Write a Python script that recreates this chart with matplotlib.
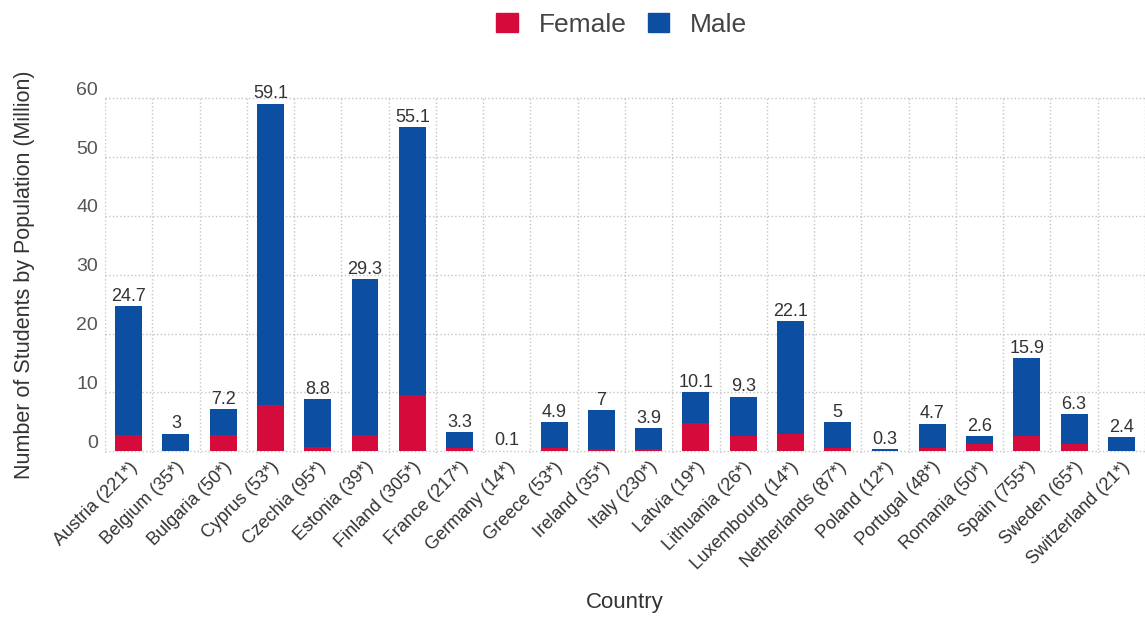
import matplotlib
matplotlib.use("Agg")
import matplotlib.pyplot as plt
import matplotlib.transforms as mtransforms
from matplotlib.patches import Patch
import numpy as np

plt.rcParams["font.family"] = ["Liberation Sans", "DejaVu Sans"]

countries = ["Austria (221*)", "Belgium (35*)", "Bulgaria (50*)", "Cyprus (53*)",
             "Czechia (95*)", "Estonia (39*)", "Finland (305*)", "France (217*)",
             "Germany (14*)", "Greece (53*)", "Ireland (35*)", "Italy (230*)",
             "Latvia (19*)", "Lithuania (26*)", "Luxembourg (14*)", "Netherlands (87*)",
             "Poland (12*)", "Portugal (48*)", "Romania (50*)", "Spain (755*)",
             "Sweden (65*)", "Switzerland (21*)"]
female = [2.7, 0.1, 2.7, 7.8, 0.7, 2.7, 9.5, 0.5, 0.0, 0.5, 0.4, 0.4,
          4.8, 2.6, 3.0, 0.5, 0.05, 0.5, 1.2, 2.6, 1.2, 0.1]
male = [22.0, 2.9, 4.5, 51.3, 8.1, 26.6, 45.6, 2.8, 0.1, 4.4, 6.6, 3.5,
        5.3, 6.7, 19.1, 4.5, 0.25, 4.2, 1.4, 13.3, 5.1, 2.3]
totals = ["24.7", "3", "7.2", "59.1", "8.8", "29.3", "55.1", "3.3", "0.1", "4.9", "7", "3.9",
          "10.1", "9.3", "22.1", "5", "0.3", "4.7", "2.6", "15.9", "6.3", "2.4"]
yticks = [0, 10, 20, 30, 40, 50, 60]

RED = "#d50b3c"
BLUE = "#0b4ea2"

fig = plt.figure(figsize=(11.45, 6.17), dpi=100)
ax = fig.add_axes([105 / 1145, 1 - 453 / 617, (1145 - 105) / 1145, (453 - 96) / 617])

x = np.arange(len(countries))
w = 0.57
ax.bar(x, female, width=w, color=RED, label="Female", zorder=3)
ax.bar(x, male, width=w, bottom=female, color=BLUE, label="Male", zorder=3)

for xi, f, m, t in zip(x, female, male, totals):
    ax.text(xi, f + m + 0.2, t, ha="center", va="bottom", fontsize=13,
            color="#333333", zorder=4)

ax.set_xlim(-0.5, 21.37)
ax.set_ylim(-0.3, 60.4)
ax.set_yticks(yticks)
ax.set_xticks(x)
ax.set_xticklabels(countries, rotation=45, ha="right", rotation_mode="anchor",
                   fontsize=13, color="#333333")
ax.tick_params(axis="y", labelsize=14, labelcolor="#555555", length=0, pad=5)
ax.tick_params(axis="x", length=0, pad=4)

# y tick labels sit slightly above their grid lines in the reference
offset = mtransforms.ScaledTranslation(0, 10 / 100, fig.dpi_scale_trans)
for lab in ax.get_yticklabels():
    lab.set_transform(lab.get_transform() + offset)

ax.set_xticks(np.arange(-0.5, 22, 1), minor=True)
ax.tick_params(axis="x", which="minor", length=0)
ax.grid(axis="y", which="major", linestyle=":", color="#c4c4c4", linewidth=1, zorder=0)
ax.grid(axis="x", which="minor", linestyle=":", color="#c4c4c4", linewidth=1, zorder=0)
ax.grid(axis="x", which="major", visible=False)
for s in ax.spines.values():
    s.set_visible(False)

ax.set_xlabel("Country", fontsize=16, color="#333333", labelpad=14)
ax.set_ylabel("Number of Students by Population (Million)", fontsize=15.5,
              color="#333333", labelpad=30)

handles = [Patch(facecolor=RED, edgecolor=RED, label="Female"),
           Patch(facecolor=BLUE, edgecolor=BLUE, label="Male")]
fig.legend(handles=handles, loc="center", bbox_to_anchor=(0.543, 1 - 25 / 617), ncol=2,
           frameon=False, fontsize=19, handlelength=0.8, handleheight=0.75,
           handletextpad=0.8, columnspacing=0.8, labelcolor="#444444")

fig.savefig("out.png", dpi=100)
